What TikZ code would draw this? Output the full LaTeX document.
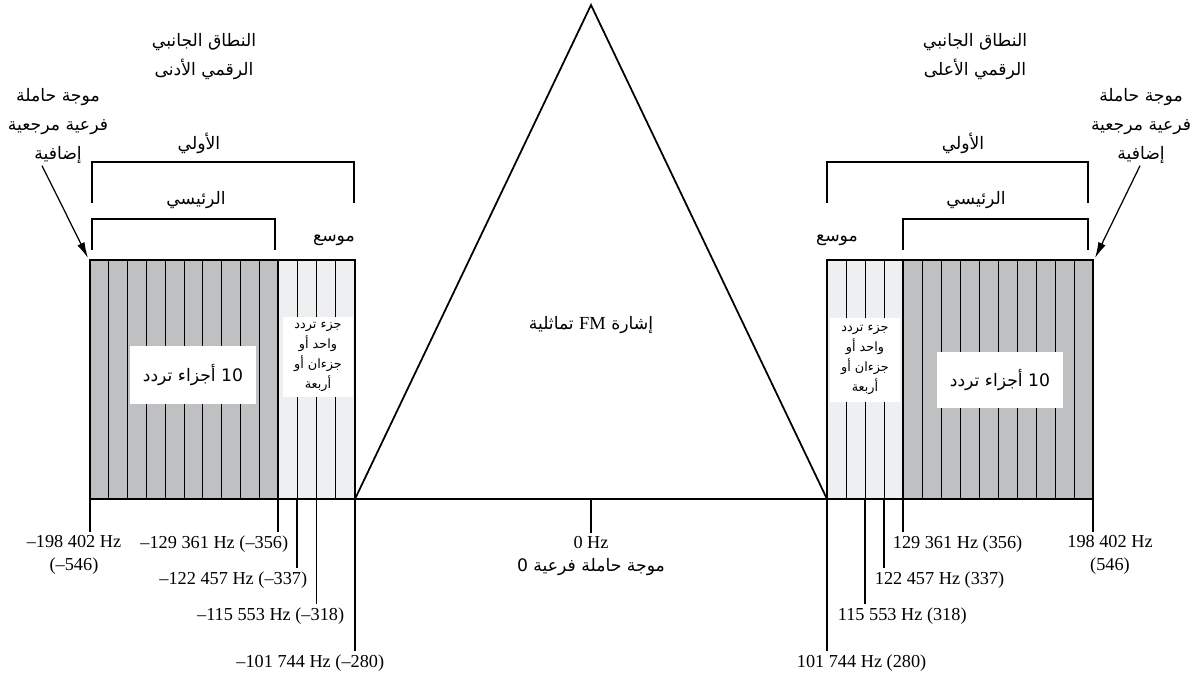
\documentclass[tikz,border=0pt]{standalone}
\usepackage{fontspec}
\setmainfont{Liberation Serif}
\newfontfamily\arabicfont[Script=Arabic]{DejaVu Sans}
\TeXXeTstate=1
\newcommand{\ar}[1]{{\arabicfont\beginR #1\endR}}
\usetikzlibrary{arrows.meta,positioning}

\definecolor{bandgray}{HTML}{BFC0C2}
\definecolor{extgray}{HTML}{EEEFF0}

\tikzset{
  freq/.style={font=\fontsize{10.4}{13}\selectfont, inner sep=2pt, align=center},
  artext/.style={font=\fontsize{9.8}{16.5}\selectfont, align=center, inner sep=1pt},
  smalltext/.style={font=\fontsize{7.3}{11.3}\selectfont, align=center, inner sep=1pt},
  whitebox/.style={fill=white, inner sep=0pt, align=center},
  frame/.style={line width=1.3pt},
  stripe/.style={line width=0.5pt},
  freqtick/.style={line width=1pt},
  bracket/.style={line width=0.6pt},
  pointer/.style={line width=0.7pt, -{Latex[length=9pt,width=4.5pt]}},
}

\begin{document}
\begin{tikzpicture}[x=0.02cm,y=-0.02cm]
\useasboundingbox (0,0) rectangle (1193,675);

% lower sideband
\fill[bandgray] (90,260) rectangle (278,499);
\fill[extgray] (278,260) rectangle (355,499);
\foreach \i in {1,...,9} \draw[stripe] ({90+\i*18.8},260) -- ++(0,239);
\foreach \i in {1,2,3} \draw[stripe] ({278+\i*19.25},260) -- ++(0,239);
\draw[frame] (90,260) rectangle (355,499);
\draw[frame] (278,260) -- (278,499);
\coordinate (lcorner) at (88,258);

% upper sideband
\fill[extgray] (827,260) rectangle (903,499);
\fill[bandgray] (903,260) rectangle (1093,499);
\foreach \i in {1,2,3} \draw[stripe] ({827+\i*19},260) -- ++(0,239);
\foreach \i in {1,...,9} \draw[stripe] ({903+\i*19},260) -- ++(0,239);
\draw[frame] (827,260) rectangle (1093,499);
\draw[frame] (903,260) -- (903,499);
\coordinate (rcorner) at (1095,258);

% analogue FM triangle and axis
\coordinate (apex) at (591,5);
\coordinate (tl) at (355,499);
\coordinate (tr) at (827,499);
\draw[line width=1pt] (tl) -- (apex) -- (tr);
\draw[frame] (90,499) -- (1093,499);
\node[artext] (fm) at (591,325) {\ar{إشارة \beginL{\rmfamily\fontsize{10.5}{12}\selectfont FM}\endL{} تماثلية}};

% brackets
\draw[bracket] (92,203) -- (92,162) -- (354,162) -- (354,203);
\draw[bracket] (92,250) -- (92,219) -- (275,219) -- (275,250);
\draw[bracket] (827,203) -- (827,162) -- (1088,162) -- (1088,203);
\draw[bracket] (903,250) -- (903,219) -- (1088,219) -- (1088,250);
\node[artext] (primL) at (199,143) {\ar{الأولي}};
\node[artext] (mainL) at (196,200) {\ar{الرئيسي}};
\node[artext] (extL) at (334,240) {\ar{موسع}};
\node[artext] (primR) at (963,143) {\ar{الأولي}};
\node[artext] (mainR) at (976,200) {\ar{الرئيسي}};
\node[artext] (extR) at (837,240) {\ar{موسع}};

% titles
\node[artext] (lsb) at (204,57) {\ar{النطاق الجانبي}\\\ar{الرقمي الأدنى}};
\node[artext] (usb) at (975,57) {\ar{النطاق الجانبي}\\\ar{الرقمي الأعلى}};
\node[artext] (refL) at (58,126) {\ar{موجة حاملة}\\\ar{فرعية مرجعية}\\\ar{إضافية}};
\node[artext] (refR) at (1141,126) {\ar{موجة حاملة}\\\ar{فرعية مرجعية}\\\ar{إضافية}};
\draw[pointer] ([xshift=-0.32cm]refL.south) -- (lcorner);
\draw[pointer] ([xshift=-0.02cm]refR.south) -- (rcorner);

% partition labels
\node[whitebox, minimum width=2.52cm, minimum height=1.16cm, artext] (tenL) at (193,375) {\ar{10 أجزاء تردد}};
\node[whitebox, minimum width=1.4cm, minimum height=1.6cm, smalltext] (oneL) at (318,357)
  {\ar{جزء تردد}\\\ar{واحد أو}\\\ar{جزءان أو}\\\ar{أربعة}};
\node[whitebox, minimum width=2.52cm, minimum height=1.14cm, artext] (tenR) at (1000,380) {\ar{10 أجزاء تردد}};
\node[whitebox, minimum width=1.4cm, minimum height=1.68cm, smalltext] (oneR) at (865,360)
  {\ar{جزء تردد}\\\ar{واحد أو}\\\ar{جزءان أو}\\\ar{أربعة}};

% frequency labels
\node[freq] (f1) at (74,555) {–198 402 Hz\\(–546)};
\node[freq, anchor=east] (f2) at (292,544) {–129 361 Hz (–356)};
\node[freq, anchor=east] (f3) at (311,580) {–122 457 Hz (–337)};
\node[freq, anchor=east] (f4) at (348,616) {–115 553 Hz (–318)};
\node[freq, anchor=east] (f5) at (388,663) {–101 744 Hz (–280)};
\node[freq] (f0) at (591,556) {0 Hz\\{\arabicfont\fontsize{9.8}{12}\selectfont\beginR موجة حاملة فرعية 0\endR}};
\node[freq, anchor=west] (g5) at (793,663) {101 744 Hz (280)};
\node[freq, anchor=west] (g4) at (834,616) {115 553 Hz (318)};
\node[freq, anchor=west] (g3) at (871,580) {122 457 Hz (337)};
\node[freq, anchor=west] (g2) at (889,544) {129 361 Hz (356)};
\node[freq] (g1) at (1110,555) {198 402 Hz\\(546)};

% ticks
\coordinate (t1) at (90,499);    \draw[freqtick] (t1) -- (t1 |- f1.north);
\coordinate (t2) at (278,499);   \draw[freqtick] (t2) -- (t2 |- f2.north);
\coordinate (t3) at (297.3,499); \draw[freqtick] (t3) -- (t3 |- f3.north);
\coordinate (t4) at (316.5,499); \draw[freqtick] (t4) -- (t4 |- f4.north);
\coordinate (t5) at (355,499);   \draw[freqtick] (t5) -- (t5 |- f5.north);
\coordinate (t0) at (591,499);   \draw[freqtick] (t0) -- (t0 |- f0.north);
\coordinate (u5) at (827,499);   \draw[freqtick] (u5) -- (u5 |- g5.north);
\coordinate (u4) at (865,499);   \draw[freqtick] (u4) -- (u4 |- g4.north);
\coordinate (u3) at (884,499);   \draw[freqtick] (u3) -- (u3 |- g3.north);
\coordinate (u2) at (903,499);   \draw[freqtick] (u2) -- (u2 |- g2.north);
\coordinate (u1) at (1093,499);  \draw[freqtick] (u1) -- (u1 |- g1.north);
\end{tikzpicture}
\end{document}
